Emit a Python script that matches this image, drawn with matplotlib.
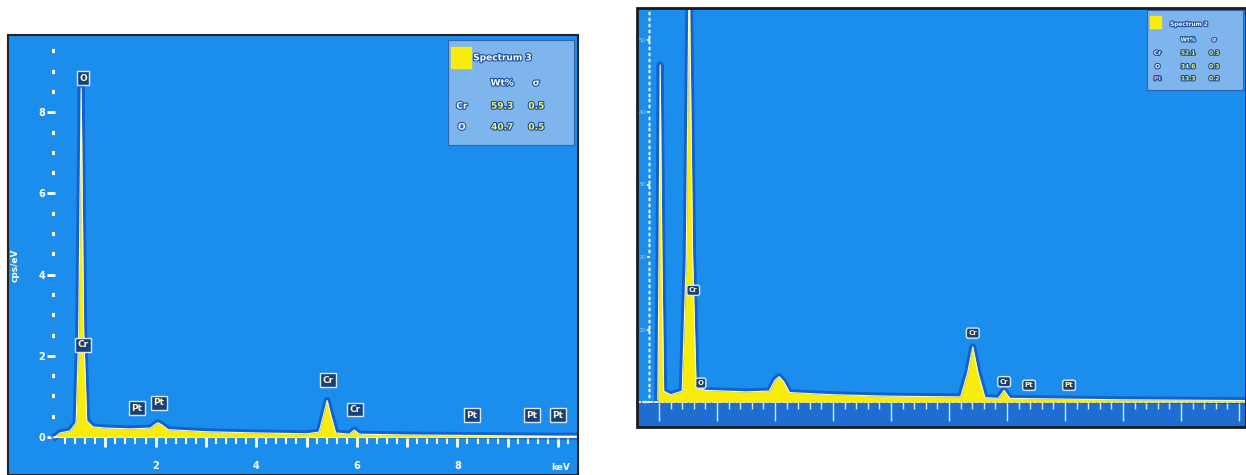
import matplotlib
matplotlib.use("Agg")
import numpy as np
import matplotlib.pyplot as plt
import matplotlib.patheffects as pe
from matplotlib.patches import Rectangle
from matplotlib.ticker import FixedLocator, FuncFormatter

# ---------------- data ----------------
# left spectrum (Spectrum 3), keV vs cps/eV
energy_a = [0.0, 0.1, 0.3, 0.42, 0.47, 0.52, 0.57, 0.63, 0.75, 1.0, 1.5, 1.9,
            2.0, 2.05, 2.12, 2.25, 3.0, 4.0, 5.0, 5.25, 5.35, 5.41, 5.47, 5.58,
            5.85, 5.95, 6.05, 7.0, 8.0, 9.0, 10.0, 10.4]
counts_a = [0.0, 0.1, 0.15, 0.35, 2.5, 8.6, 2.6, 0.4, 0.25, 0.22, 0.2, 0.22,
            0.32, 0.35, 0.3, 0.18, 0.13, 0.1, 0.08, 0.12, 0.6, 0.9, 0.6, 0.1,
            0.07, 0.17, 0.07, 0.05, 0.04, 0.03, 0.02, 0.02]
labels_a = ["O", "Cr", "Pt", "Pt", "Cr", "Cr", "Pt", "Pt", "Pt"]
label_x_a = [0.56, 0.56, 1.63, 2.07, 5.43, 5.96, 8.29, 9.48, 10.0]
label_y_a = [8.84, 2.27, 0.71, 0.84, 1.40, 0.68, 0.54, 0.54, 0.54]
elem_a = ["Cr", "O"]
wt_a = ["59.3", "40.7"]
sig_a = ["0.5", "0.5"]

# right spectrum (Spectrum 2)
energy_b = [-0.02, 0.0, 0.02, 0.05, 0.08, 0.2, 0.4, 0.47, 0.52, 0.58, 0.64,
            0.8, 1.5, 1.9, 2.0, 2.07, 2.15, 2.25, 3.0, 4.0, 5.2, 5.32, 5.41,
            5.5, 5.62, 5.85, 5.95, 6.05, 7.0, 8.0, 10.1]
counts_b = [0.3, 20, 46.5, 20, 1.5, 1.0, 1.5, 20, 60, 20, 2.0,
            1.6, 1.4, 1.5, 3.0, 3.5, 2.8, 1.3, 1.0, 0.8, 0.7, 4.0, 7.6,
            4.0, 0.6, 0.5, 1.6, 0.5, 0.4, 0.3, 0.2]
labels_b = ["Cr", "O", "Cr", "Cr", "Pt", "Pt"]
label_x_b = [0.59, 0.72, 5.41, 5.95, 6.38, 7.07]
label_y_b = [15.4, 2.6, 9.5, 2.8, 2.3, 2.3]
elem_b = ["Cr", "O", "Pt"]
wt_b = ["52.1", "34.6", "13.3"]
sig_b = ["0.3", "0.3", "0.2"]

# ---------------- layout ----------------
W, H = 1246, 475
BLUE = "#1b8ded"
YEL = "#f7ec0c"
fig = plt.figure(figsize=(W / 100, H / 100), dpi=100)
fig.patch.set_facecolor("white")


def rect(x0, y0, x1, y1):
    return [x0 / W, 1 - y1 / H, (x1 - x0) / W, (y1 - y0) / H]


def spectrum(ax, e, c):
    ax.plot(e, c, color="#0a3db5", lw=5, alpha=0.55, zorder=2)
    ax.fill_between(e, 0, c, color=YEL, lw=0, zorder=3)
    ax.plot(e, c, color="#fffbd0", lw=0.8, zorder=4)


def peak_labels(ax, xs, ys, names, fs, style):
    for x, y, s in zip(xs, ys, names):
        ax.text(x, y, s, ha="center", va="center", fontsize=fs, color="#fff6c0",
                weight="bold", zorder=6,
                bbox=dict(boxstyle=style, fc="#17407e", ec="#dce8f6", lw=1.0))


def table(box, title, elems, vals, sigs, rows_y, fs, colors, marker):
    tx = fig.add_axes(box)
    tx.set_facecolor("#7db5ec")
    tx.set_xticks([])
    tx.set_yticks([])
    for s in tx.spines.values():
        s.set_color("#2f64ad")
    stroke = [pe.withStroke(linewidth=1.6, foreground="#1d4f9c")]
    tx.add_patch(Rectangle(marker[0], marker[1], marker[2], color=YEL,
                           transform=tx.transAxes))
    tx.text(marker[3], marker[4], title, fontsize=fs, color="white", weight="bold",
            va="center", path_effects=stroke)
    tx.text(0.43, rows_y[0], "Wt%", fontsize=fs, color="white", weight="bold",
            ha="center", va="center", path_effects=stroke)
    tx.text(0.70, rows_y[0], "σ", fontsize=fs, color="white", weight="bold",
            ha="center", va="center", path_effects=stroke)
    for e, v, s, y, col in zip(elems, vals, sigs, rows_y[1:], colors):
        tx.text(0.11, y, e, fontsize=fs, color=col, weight="bold",
                ha="center", va="center", path_effects=stroke)
        tx.text(0.43, y, v, fontsize=fs, color="#f4f06a", weight="bold",
                ha="center", va="center", path_effects=stroke)
        tx.text(0.70, y, s, fontsize=fs, color="#f4f06a", weight="bold",
                ha="center", va="center", path_effects=stroke)


# ---------------- left panel ----------------
ax = fig.add_axes(rect(8, 35, 578, 475))
ax.set_facecolor(BLUE)
ax.set_xlim((8 - 55) / 50.3, (578 - 55) / 50.3)
ax.set_ylim((437 - 475) / 40.6, (437 - 35) / 40.6)
spectrum(ax, energy_a, counts_a)
peak_labels(ax, label_x_a, label_y_a, labels_a, 6.5, "square,pad=0.25")

ax.spines["left"].set_position(("data", 0))
ax.spines["left"].set_visible(False)
ax.spines["bottom"].set_position(("data", 0))
ax.spines["bottom"].set_color("white")
ax.spines["bottom"].set_linewidth(1.5)
ax.spines["bottom"].set_bounds(0, 10.4)
ax.spines["top"].set_visible(False)
ax.spines["right"].set_visible(False)
ax.add_patch(Rectangle((0, 0), 1, 1, transform=ax.transAxes, fill=False,
                       ec="#222222", lw=1.5, clip_on=False, zorder=10))

ax.xaxis.set_major_locator(FixedLocator(np.arange(1, 11)))
ax.xaxis.set_minor_locator(FixedLocator(np.arange(0.2, 10.4, 0.2)))
ax.xaxis.set_major_formatter(FuncFormatter(
    lambda v, p: str(int(round(v))) if int(round(v)) in (2, 4, 6, 8) else ""))
ax.tick_params(axis="x", which="major", direction="out", length=7, width=2,
               colors="white", labelsize=7, pad=10)
ax.tick_params(axis="x", which="minor", direction="out", length=5, width=1.5,
               colors="white")
for t in ax.get_xticklabels():
    t.set_fontweight("bold")

ax.yaxis.set_major_locator(FixedLocator([0, 2, 4, 6, 8]))
ax.yaxis.set_minor_locator(FixedLocator(np.arange(0.5, 9.6, 0.5)))
ax.tick_params(axis="y", which="major", direction="out", length=6, width=2,
               colors="white", labelsize=7, pad=1)
ax.tick_params(axis="y", which="minor", direction="out", length=2, width=3,
               colors="white")
for t in ax.get_yticklabels():
    t.set_fontweight("bold")

fig.text(15 / W, 1 - 265 / H, "cps/eV", rotation=90, color="white", fontsize=6.5,
         ha="center", va="center", weight="bold")
fig.text(561 / W, 1 - 467 / H, "keV", color="white", fontsize=6.5,
         ha="center", va="center", weight="bold")

table(rect(448, 40, 574, 145), "Spectrum 3", elem_a, wt_a, sig_a,
      [0.59, 0.37, 0.17], 6.5, ["white", "white"],
      ((0.025, 0.73), 0.16, 0.2, 0.20, 0.83))

# ---------------- right panel ----------------
bx = fig.add_axes(rect(637, 8, 1246, 427))
bx.set_facecolor(BLUE)
bx.set_xlim((637 - 659) / 58, (1246 - 659) / 58)
bx.set_ylim((402 - 427) / 7.25, (402 - 8) / 7.25)
bx.axhspan((402 - 427) / 7.25, 0, color="#1f62c4", alpha=0.7, lw=0, zorder=1)
spectrum(bx, energy_b, counts_b)
peak_labels(bx, label_x_b, label_y_b, labels_b, 5, "round,pad=0.3")

bx.spines["left"].set_position(("data", -0.155))
bx.spines["left"].set_visible(False)
bx.spines["bottom"].set_position(("data", 0))
bx.spines["bottom"].set_color("white")
bx.spines["bottom"].set_linewidth(1.2)
bx.spines["bottom"].set_linestyle((0, (2, 1.5)))
bx.spines["top"].set_visible(False)
bx.spines["right"].set_visible(False)
bx.add_patch(Rectangle((0, 0), 1, 1, transform=bx.transAxes, fill=False,
                       ec="#1b1b1b", lw=2, clip_on=False, zorder=10))

bx.xaxis.set_major_locator(FixedLocator(np.arange(0, 11)))
bx.xaxis.set_minor_locator(FixedLocator(np.arange(0.2, 10.1, 0.2)))
bx.xaxis.set_major_formatter(FuncFormatter(lambda v, p: ""))
bx.tick_params(axis="x", which="major", direction="out", length=14, width=1,
               colors="#d8e8ff")
bx.tick_params(axis="x", which="minor", direction="out", length=5, width=1,
               colors="#d8e8ff")

bx.yaxis.set_major_locator(FixedLocator([0, 10, 20, 30, 40, 50]))
bx.yaxis.set_minor_locator(FixedLocator(np.arange(0.8, 54, 0.8)))
bx.tick_params(axis="y", which="major", direction="out", length=2, width=1.5,
               colors="#e6f0ff", labelsize=4.5, pad=0.5)
bx.tick_params(axis="y", which="minor", direction="out", length=1.5, width=2.5,
               colors="white")
for t in bx.get_yticklabels():
    t.set_alpha(0.6)

fig.text(626 / W, 1 - 205 / H, "cps/eV", rotation=90, color="white", fontsize=4.5,
         ha="center", va="center", alpha=0.5)

table(rect(1147, 10, 1243, 90), "Spectrum 2", elem_b, wt_b, sig_b,
      [0.625, 0.46, 0.29, 0.14], 4.2, ["white", "white", "#f3a6c8"],
      ((0.03, 0.78), 0.12, 0.15, 0.24, 0.82))

fig.savefig("out.png", dpi=100)
